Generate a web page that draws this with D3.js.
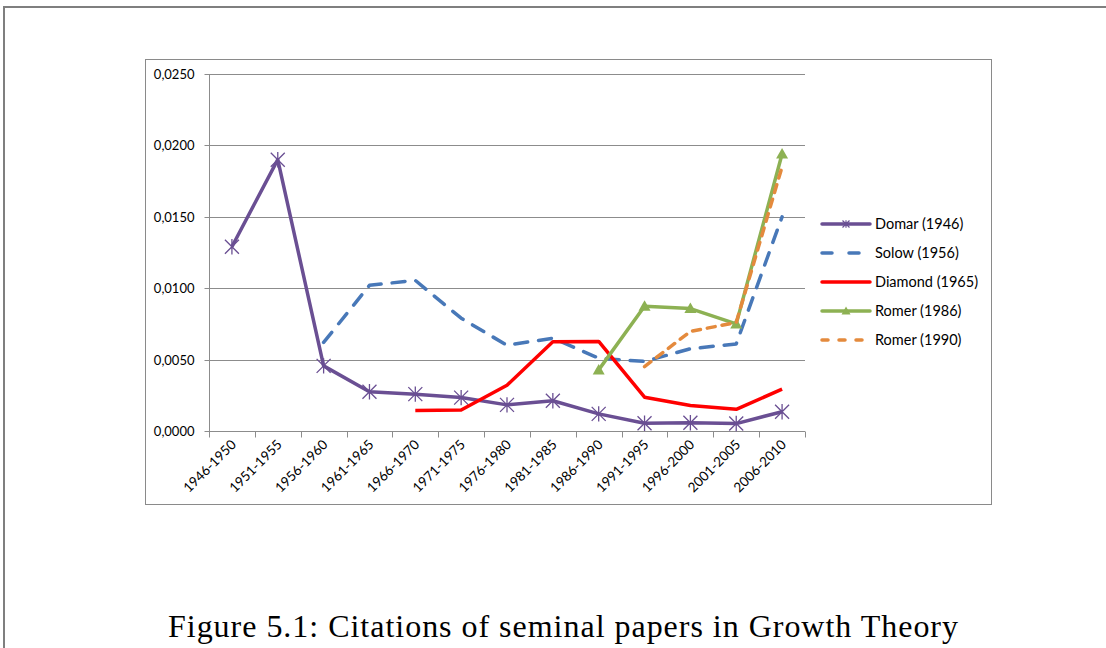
<!DOCTYPE html>
<html>
<head>
<meta charset="utf-8">
<script src="https://cdn.jsdelivr.net/npm/d3@7"></script>
<style>
  body { margin: 0; background: #fff; }
  svg { display: block; }
</style>
</head>
<body>
<svg id="chart"></svg>
<script>
const WIDTH = 1106;
const HEIGHT = 648;

// periods on the x axis
const periods = ["1946-1950", "1951-1955", "1956-1960", "1961-1965", "1966-1970", "1971-1975",
  "1976-1980", "1981-1985", "1986-1990", "1991-1995", "1996-2000", "2001-2005", "2006-2010"];

// citation shares (null = not yet published)
const domar = [0.0129, 0.0190, 0.00456, 0.00275, 0.00258, 0.00234, 0.00183, 0.00212, 0.00120, 0.00054, 0.00058, 0.00052, 0.00135];
const solow = [null, null, 0.0062, 0.0102, 0.01055, 0.0079, 0.0060, 0.0065, 0.0051, 0.00487, 0.00576, 0.0061, 0.0150];
const diamond = [null, null, null, null, 0.00143, 0.00147, 0.0032, 0.00625, 0.00627, 0.00237, 0.00178, 0.00152, 0.00293];
const romer86 = [null, null, null, null, null, null, null, null, 0.00428, 0.00873, 0.00857, 0.0075, 0.0194];
const romer90 = [null, null, null, null, null, null, null, null, null, 0.00451, 0.00697, 0.0076, 0.0185];

const yTicks = [0, 0.005, 0.010, 0.015, 0.020, 0.025];
const caption = "Figure 5.1: Citations of seminal papers in Growth Theory";

const series = [
  {name: "Domar (1946)", values: domar, color: "#6a4f93", dash: null, marker: "star"},
  {name: "Solow (1956)", values: solow, color: "#4878b8", dash: "13,11", marker: null},
  {name: "Diamond (1965)", values: diamond, color: "#ff0000", dash: null, marker: null},
  {name: "Romer (1986)", values: romer86, color: "#8db153", dash: null, marker: "triangle"},
  {name: "Romer (1990)", values: romer90, color: "#e48a3d", dash: "8,7", marker: null}
];

const FONT = "Lato, 'Open Sans', sans-serif";

const svg = d3.select("#chart")
  .attr("width", WIDTH)
  .attr("height", HEIGHT)
  .style("background-color", "white");

// page frame (only top and left edges are visible)
svg.append("path")
  .attr("d", "M4,648 V7 H1106")
  .attr("fill", "none")
  .attr("stroke", "#7f7f7f")
  .attr("stroke-width", 2);

// chart area frame
svg.append("rect")
  .attr("x", 145.5).attr("y", 59.5)
  .attr("width", 846).attr("height", 445)
  .attr("fill", "none")
  .attr("stroke", "#8a8a8a")
  .attr("stroke-width", 1);

const x = d3.scaleBand().domain(periods).range([209, 805]);
const y = d3.scaleLinear().domain([0, 0.025]).range([431, 74]);

const fmt = v => d3.format(".4f")(v).replace(".", ",");

// horizontal gridlines
svg.append("g")
  .selectAll("line")
  .data(yTicks.filter(d => d > 0))
  .join("line")
  .attr("x1", 209).attr("x2", 805)
  .attr("y1", d => Math.round(y(d)) + 0.5)
  .attr("y2", d => Math.round(y(d)) + 0.5)
  .attr("stroke", "#8c8c8c")
  .attr("stroke-width", 1);

// y axis
const yAxis = svg.append("g")
  .attr("transform", "translate(209.5,0.5)")
  .call(d3.axisLeft(y).tickValues(yTicks).tickFormat(fmt).tickSize(5).tickPadding(10));
yAxis.select(".domain").attr("stroke", "#8c8c8c").attr("d", "M0," + Math.round(y(0.025)) + "V" + Math.round(y(0)));
yAxis.selectAll(".tick line").attr("stroke", "#8c8c8c").attr("y1", 0).attr("y2", 0);
yAxis.selectAll(".tick").attr("transform", d => "translate(0," + Math.round(y(d)) + ")");
yAxis.selectAll("text").attr("font-family", FONT).attr("font-size", 13).attr("fill", "#000");

// x axis, ticks between categories
const xg = svg.append("g").attr("transform", "translate(0," + (Math.round(y(0)) + 0.5) + ")");
xg.append("line")
  .attr("x1", 209).attr("x2", 805)
  .attr("stroke", "#8c8c8c");
xg.selectAll("line.tk")
  .data(periods.concat(["end"]))
  .join("line")
  .attr("class", "tk")
  .attr("x1", (d, i) => Math.round(209 + i * x.step()) + 0.5)
  .attr("x2", (d, i) => Math.round(209 + i * x.step()) + 0.5)
  .attr("y1", 0).attr("y2", 6)
  .attr("stroke", "#8c8c8c");
xg.selectAll("text")
  .data(periods)
  .join("text")
  .attr("transform", d => "translate(" + (x(d) + x.bandwidth() / 2 + 5) + ",14) rotate(-45)")
  .attr("text-anchor", "end")
  .attr("font-family", FONT)
  .attr("font-size", 13.5)
  .text(d => d);

// series lines
const line = d3.line()
  .defined(d => d.v !== null)
  .x(d => x(d.p) + x.bandwidth() / 2)
  .y(d => y(d.v));

function starPath(cx, cy, r) {
  return "M" + (cx - r) + "," + (cy - r) + "L" + (cx + r) + "," + (cy + r) +
    "M" + (cx - r) + "," + (cy + r) + "L" + (cx + r) + "," + (cy - r) +
    "M" + cx + "," + (cy - r * 1.1) + "L" + cx + "," + (cy + r * 1.1);
}
function triPath(cx, cy, r) {
  return "M" + cx + "," + (cy - r) + "L" + (cx + r) + "," + (cy + r * 0.75) + "L" + (cx - r) + "," + (cy + r * 0.75) + "Z";
}

const plot = svg.append("g");
series.forEach(s => {
  const pts = periods.map((p, i) => ({p: p, v: s.values[i]}));
  plot.append("path")
    .datum(pts)
    .attr("d", line)
    .attr("fill", "none")
    .attr("stroke", s.color)
    .attr("stroke-width", 3.5)
    .attr("stroke-linejoin", "round")
    .attr("stroke-linecap", s.dash ? "round" : "butt")
    .attr("stroke-dasharray", s.dash);

  const valid = pts.filter(d => d.v !== null);
  if (s.marker === "star") {
    plot.selectAll(null)
      .data(valid)
      .join("path")
      .attr("d", d => starPath(x(d.p) + x.bandwidth() / 2, y(d.v), 7))
      .attr("stroke", s.color)
      .attr("stroke-width", 1.3)
      .attr("fill", "none");
  } else if (s.marker === "triangle") {
    plot.selectAll(null)
      .data(valid)
      .join("path")
      .attr("d", d => triPath(x(d.p) + x.bandwidth() / 2, y(d.v), 6))
      .attr("fill", s.color);
  }
});

// legend
const legend = svg.append("g");
series.forEach((s, i) => {
  const ly = 224 + i * 29;
  legend.append("line")
    .attr("x1", 822).attr("x2", 870)
    .attr("y1", ly).attr("y2", ly)
    .attr("stroke", s.color)
    .attr("stroke-width", 3.5)
    .attr("stroke-linecap", "round")
    .attr("stroke-dasharray", s.dash ? (s.dash === "13,11" ? "10,17" : "6,11") : null);
  if (s.marker === "star") {
    legend.append("path").attr("d", starPath(846, ly, 3.5)).attr("stroke", s.color).attr("stroke-width", 1.2).attr("fill", "none");
  } else if (s.marker === "triangle") {
    legend.append("path").attr("d", triPath(846, ly, 4.5)).attr("fill", s.color);
  }
  legend.append("text")
    .attr("x", 875).attr("y", ly + 5)
    .attr("font-family", FONT)
    .attr("font-size", 14.5)
    .text(s.name);
});

// caption
svg.append("text")
  .attr("x", 563).attr("y", 637)
  .attr("text-anchor", "middle")
  .attr("font-family", "'Liberation Serif', 'DejaVu Serif', serif")
  .attr("font-size", 32)
  .attr("textLength", 790)
  .attr("lengthAdjust", "spacing")
  .text(caption);
</script>
</body>
</html>
